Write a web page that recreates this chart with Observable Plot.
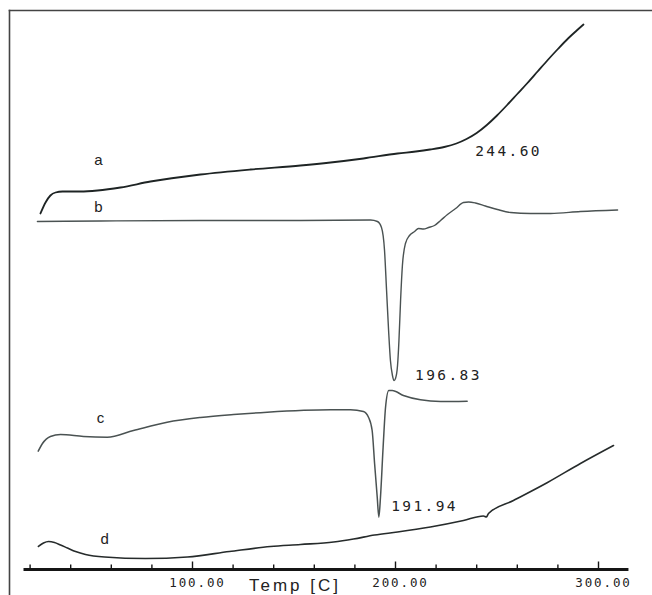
<!DOCTYPE html>
<html><head><meta charset="utf-8">
<script src="https://cdn.jsdelivr.net/npm/d3@7"></script>
<script src="https://cdn.jsdelivr.net/npm/@observablehq/plot@0.6"></script>
<style>
html,body{margin:0;padding:0;background:#fff;overflow:hidden}
g[font-size="12.5"] text{letter-spacing:1.9px}
g[font-size="14.5"] text{letter-spacing:2.4px}
g[font-size="17"] text{letter-spacing:3px}
</style>
</head><body><div id="chart"></div>
<script>
// Temperature (°C) and signal (arbitrary units, curves offset)
const tempA = [25.1,27.6,30.0,32.5,36.0,44.8,53.2,64.5,79.3,103.9,128.6,153.2,168.0,184.2,201.0,210.0,217.0,224.0,230.0,235.0,240.0,245.0,250.0,255.0,260.0,265.0,270.0,275.0,280.0,285.0,289.0,292.6];
const sigA  = [35.6,36.7,37.4,37.7,37.8,37.8,37.9,38.2,38.8,39.5,40.0,40.4,40.7,41.1,41.6,41.8,42.0,42.25,42.6,43.05,43.65,44.45,45.4,46.45,47.55,48.65,49.8,50.95,52.05,53.1,53.85,54.5];

const tempB = [23.6,54.7,103.9,153.2,187.7,191.1,193.1,194.6,195.6,196.6,197.5,198.5,199.3,200.0,201.0,201.7,202.5,203.4,204.9,206.9,209.4,211.3,213.8,216.3,219.2,222.2,225.6,229.6,233.5,236.0,239.4,244.3,250.2,256.7,266.5,276.4,291.1,309.4];
const sigB  = [34.8,34.85,34.9,34.9,34.95,34.8,34.2,31.9,27.9,23.9,20.9,19.4,18.9,19.1,20.4,22.9,26.9,30.4,32.6,33.4,33.8,34.1,34.05,34.2,34.4,34.9,35.5,36.1,36.7,36.75,36.65,36.35,36.0,35.7,35.6,35.6,35.8,35.95];

const tempC = [24.0,26.1,30.0,35.0,46.3,58.0,70.9,87.5,103.9,120.2,136.8,168.0,177.8,184.2,186.7,188.5,189.7,191.0,191.8,192.6,193.9,195.1,196.7,198.4,203.9,212.3,222.2,235.3];
const sigC  = [11.83,12.6,13.3,13.5,13.3,13.23,13.9,14.73,15.2,15.5,15.73,15.97,15.97,15.8,15.23,13.9,10.6,7.23,5.23,7.23,12.23,16.23,17.9,17.9,17.4,16.97,16.8,16.83];

const tempD = [24.1,26.6,29.1,32.0,35.0,38.4,42.4,47.3,56.7,76.8,97.5,118.2,138.4,153.2,169.5,179.3,189.7,201.0,217.2,233.5,243.3,244.8,245.8,258.1,274.9,291.1,307.4];
const sigD  = [2.3,2.65,2.8,2.7,2.45,2.15,1.8,1.5,1.25,1.1,1.25,1.8,2.3,2.5,2.75,3.05,3.45,3.75,4.25,4.9,5.35,5.25,5.6,6.9,8.7,10.6,12.4];

const curveNames  = ["a","b","c","d"];
const curveLabelT = [53.7,53.7,54.7,56.7];
const curveLabelS = [40.9,36.2,15.1,3.0];

const peakLabels = ["244.60","196.83","191.94"];
const peakLabelT = [255.7,226.1,214.3];
const peakLabelS = [41.8,19.4,6.35];

const ticks      = [20,40,60,80,100,120,140,160,180,200,220,240,260,280,300];
const majorTicks = [100,200,300];
const tickLabels = ["100.00","200.00","300.00"];
const axisExtent = [17,315];
const axisTitle  = "Temp [C]";

const toRows = (T, S, name) => T.map((t, i) => ({T: t, S: S[i], name}));
const rowsA = toRows(tempA, sigA, "a");
const rowsB = toRows(tempB, sigB, "b");
const rowsC = toRows(tempC, sigC, "c");
const rowsD = toRows(tempD, sigD, "d");

const chart = Plot.plot({
  width: 652, height: 595,
  marginTop: 10, marginLeft: 9, marginRight: 0, marginBottom: 0,
  x: {domain: [20, 300], range: [29.6, 598], axis: null},
  y: {domain: [0, 56.9], range: [569, 0], axis: null},
  marks: [
    Plot.frame({anchor: "top", stroke: "#444", strokeWidth: 1.6}),
    Plot.frame({anchor: "left", stroke: "#444", strokeWidth: 1.6}),
    Plot.ruleY([{y: 0, x1: axisExtent[0], x2: axisExtent[1]}], {y: "y", x1: "x1", x2: "x2", stroke: "#151515", strokeWidth: 3}),
    Plot.ruleX(ticks, {x: d => d, y1: 0, y2: d => majorTicks.includes(d) ? 0.75 : 0.45, stroke: "#151515", strokeWidth: 1.4}),
    Plot.text(majorTicks, {x: d => d, y: 0, dy: 13, dx: 5, text: (d, i) => tickLabels[i], fontFamily: "DejaVu Sans Mono", fontSize: 12.5, fill: "#222"}),
    Plot.text([axisTitle], {x: () => 150.5, y: 0, dy: 16, text: d => d, fontFamily: "Liberation Sans", fontSize: 17, fill: "#222"}),
    Plot.line(rowsA, {x: "T", y: "S", curve: "monotone-x", stroke: "#1e2424", strokeWidth: 1.8}),
    Plot.line(rowsB, {x: "T", y: "S", curve: "monotone-x", stroke: "#4a5252", strokeWidth: 1.4}),
    Plot.line(rowsC, {x: "T", y: "S", curve: "monotone-x", stroke: "#4a5252", strokeWidth: 1.5}),
    Plot.line(rowsD, {x: "T", y: "S", curve: "monotone-x", stroke: "#262b2b", strokeWidth: 1.6}),
    Plot.text(curveNames, {x: (d, i) => curveLabelT[i], y: (d, i) => curveLabelS[i], text: d => d, fontFamily: "Liberation Sans", fontSize: 15, fill: "#222"}),
    Plot.text(peakLabels, {x: (d, i) => peakLabelT[i], y: (d, i) => peakLabelS[i], text: d => d, fontFamily: "DejaVu Sans Mono", fontSize: 14.5, fill: "#222"})
  ]
});
document.getElementById("chart").appendChild(chart);
</script>
</body></html>
